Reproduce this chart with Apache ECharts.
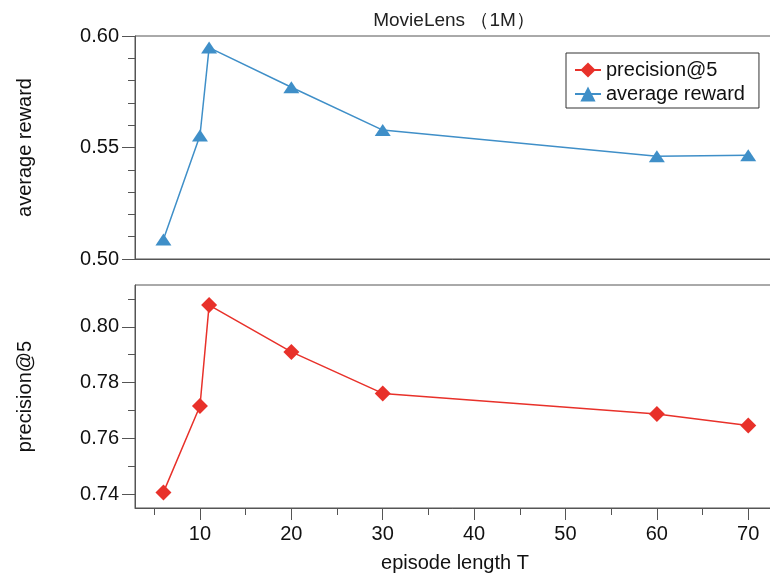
<!DOCTYPE html>
<html>
<head>
<meta charset="utf-8">
<script src="https://cdn.jsdelivr.net/npm/echarts@6/dist/echarts.min.js"></script>
<style>html,body{margin:0;padding:0;background:#fff;}#c{width:770px;height:576px;}</style>
</head>
<body>
<div id="c"></div>
<script>
var episodeLength = [6, 10, 11, 20, 30, 60, 70];
var averageReward = [0.5087, 0.5554, 0.5948, 0.5770, 0.5578, 0.5461, 0.5465];
var precisionAt5 = [0.7406, 0.7716, 0.8078, 0.7910, 0.7761, 0.7687, 0.7646];
var xMajorTicks = [10, 20, 30, 40, 50, 60, 70];
var xMinorTicks = [5, 15, 25, 35, 45, 55, 65];
var precMajorTicks = [0.74, 0.76, 0.78, 0.80];
var precMinorTicks = [0.75, 0.77, 0.79, 0.81];
var titleText = 'MovieLens （1M）';

var FONT = '"Liberation Sans", Arial, Helvetica, sans-serif';
var AX = '#555';
var XMIN = 2.89, XMAX = 72.93;

function pair(a, b) { return a.map(function (v, i) { return [v, b[i]]; }); }

var chart = echarts.init(document.getElementById('c'), null, {renderer: 'canvas'});
chart.setOption({
  animation: false,
  backgroundColor: '#fff',
  textStyle: {fontFamily: FONT},
  title: {
    text: titleText, left: 449, top: 6, textAlign: 'center',
    textStyle: {fontFamily: FONT, fontSize: 19, fontWeight: 'normal', color: '#222'}
  },
  legend: {
    data: ['precision@5', 'average reward'],
    orient: 'vertical', left: 566, top: 53,
    borderColor: '#333', borderWidth: 1,
    padding: [6, 14, 3, 8], itemGap: 2,
    itemWidth: 26, itemHeight: 19,
    textStyle: {fontFamily: FONT, fontSize: 20, color: '#111', lineHeight: 22}
  },
  grid: [
    {left: 135, top: 36, height: 223, width: 640, outerBoundsMode: 'none', containLabel: false,
     show: true, borderColor: AX, borderWidth: 1, backgroundColor: 'transparent'},
    {left: 135, top: 285, height: 223, width: 640, outerBoundsMode: 'none', containLabel: false,
     show: true, borderColor: AX, borderWidth: 1, backgroundColor: 'transparent'}
  ],
  xAxis: [
    {type: 'value', gridIndex: 0, min: XMIN, max: XMAX, position: 'bottom',
     axisLine: {show: true, onZero: false, lineStyle: {color: AX}},
     axisTick: {show: false}, axisLabel: {show: false}, splitLine: {show: false}},
    {type: 'value', gridIndex: 1, min: XMIN, max: XMAX, position: 'bottom',
     name: 'episode length T', nameLocation: 'middle', nameGap: 45,
     nameTextStyle: {fontFamily: FONT, fontSize: 20, color: '#111'},
     axisLine: {show: true, onZero: false, lineStyle: {color: AX}},
     axisTick: {show: true, length: 12, customValues: xMajorTicks, lineStyle: {color: AX}},
     axisLabel: {show: true, customValues: xMajorTicks, margin: 16, fontFamily: FONT, fontSize: 20, color: '#111'},
     splitLine: {show: false}},
    {type: 'value', gridIndex: 1, min: XMIN, max: XMAX, position: 'bottom',
     axisLine: {show: false, onZero: false},
     axisTick: {show: true, length: 7, customValues: xMinorTicks, lineStyle: {color: AX}},
     axisLabel: {show: false}, splitLine: {show: false}}
  ],
  yAxis: [
    {type: 'value', gridIndex: 0, min: 0.50, max: 0.60, interval: 0.05, position: 'left',
     name: 'average reward', nameLocation: 'middle', nameGap: 100,
     nameTextStyle: {fontFamily: FONT, fontSize: 20, color: '#111'},
     axisLine: {show: true, onZero: false, lineStyle: {color: AX}},
     axisTick: {show: true, length: 13, lineStyle: {color: AX}},
     minorTick: {show: true, splitNumber: 5, length: 7, lineStyle: {color: AX}},
     axisLabel: {margin: 16, fontFamily: FONT, fontSize: 20, color: '#111',
                 formatter: function (v) { return v.toFixed(2); }},
     splitLine: {show: false}, minorSplitLine: {show: false}},
    {type: 'value', gridIndex: 1, min: 0.735, max: 0.815, position: 'left',
     name: 'precision@5', nameLocation: 'middle', nameGap: 100,
     nameTextStyle: {fontFamily: FONT, fontSize: 20, color: '#111'},
     axisLine: {show: true, onZero: false, lineStyle: {color: AX}},
     axisTick: {show: true, length: 13, customValues: precMajorTicks, lineStyle: {color: AX}},
     axisLabel: {customValues: precMajorTicks, margin: 16, fontFamily: FONT, fontSize: 20, color: '#111',
                 formatter: function (v) { return v.toFixed(2); }},
     splitLine: {show: false}},
    {type: 'value', gridIndex: 1, min: 0.735, max: 0.815, position: 'left',
     axisLine: {show: false, onZero: false},
     axisTick: {show: true, length: 7, customValues: precMinorTicks, lineStyle: {color: AX}},
     axisLabel: {show: false}, splitLine: {show: false}}
  ],
  series: [
    {name: 'precision@5', type: 'line', xAxisIndex: 1, yAxisIndex: 1,
     data: pair(episodeLength, precisionAt5),
     symbol: 'diamond', symbolSize: [16, 16],
     itemStyle: {color: '#E8312A'}, lineStyle: {color: '#E8312A', width: 1.5}},
    {name: 'average reward', type: 'line', xAxisIndex: 0, yAxisIndex: 0,
     data: pair(episodeLength, averageReward),
     symbol: 'triangle', symbolSize: [16, 12],
     itemStyle: {color: '#3F8FC8'}, lineStyle: {color: '#3F8FC8', width: 1.5}}
  ]
});
</script>
</body>
</html>
